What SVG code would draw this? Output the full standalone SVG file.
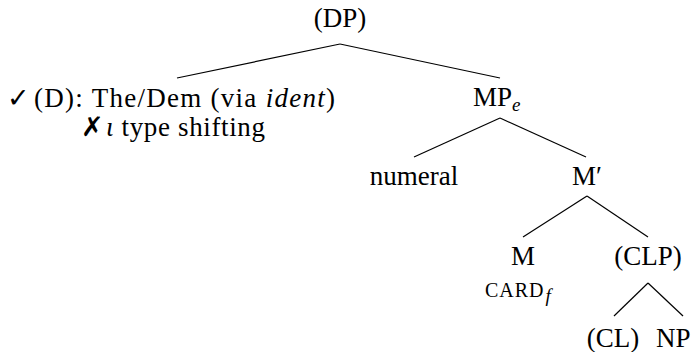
<svg xmlns="http://www.w3.org/2000/svg" width="699" height="352" viewBox="0 0 699 352">
<style>
text{font-family:'Liberation Serif','Times New Roman',serif;font-size:27px;fill:#000}
.s{font-family:'DejaVu Sans',sans-serif}
.sub{font-size:19px;font-style:italic}
.sc{font-size:20px;letter-spacing:1px}
.e line{stroke:#000;stroke-width:1.2}
</style>
<rect width="699" height="352" fill="#fff"/>
<g id="connectors" class="e">
<line x1="340" y1="44" x2="177" y2="78"/>
<line x1="340" y1="44" x2="500" y2="78"/>
<line x1="500" y1="118" x2="414" y2="157"/>
<line x1="500" y1="118" x2="586" y2="157"/>
<line x1="587" y1="196" x2="523" y2="237"/>
<line x1="587" y1="196" x2="648" y2="237"/>
<line x1="648" y1="283" x2="614" y2="316"/>
<line x1="648" y1="283" x2="683" y2="316"/>
</g>
<g id="DP"><text x="340" y="27" text-anchor="middle">(DP)</text></g>
<g id="D">
<text class="s" x="7" y="107" font-size="20">✓</text>
<text x="34" y="107" textLength="301" lengthAdjust="spacing">(D): The/Dem (via <tspan font-style="italic">ident</tspan>)</text>
<text class="s" x="81" y="136" font-size="21" font-weight="bold">✗</text>
<text x="106" y="136" textLength="159" lengthAdjust="spacing"><tspan font-style="italic">ι</tspan> type shifting</text>
</g>
<g id="MPe"><text x="473" y="106">MP<tspan class="sub" dy="5">e</tspan></text></g>
<g id="numeral"><text x="414" y="185" text-anchor="middle">numeral</text></g>
<g id="Mbar"><text x="587" y="185" text-anchor="middle">M′</text></g>
<g id="M">
<text x="523" y="265" text-anchor="middle">M</text>
<text class="sc" x="485" y="297">CARD<tspan class="sub" dy="5" dx="1">f</tspan></text>
</g>
<g id="CLP"><text x="648" y="265" text-anchor="middle">(CLP)</text></g>
<g id="CL"><text x="613" y="347" text-anchor="middle">(CL)</text></g>
<g id="NP"><text x="656" y="347">NP</text></g>
</svg>
